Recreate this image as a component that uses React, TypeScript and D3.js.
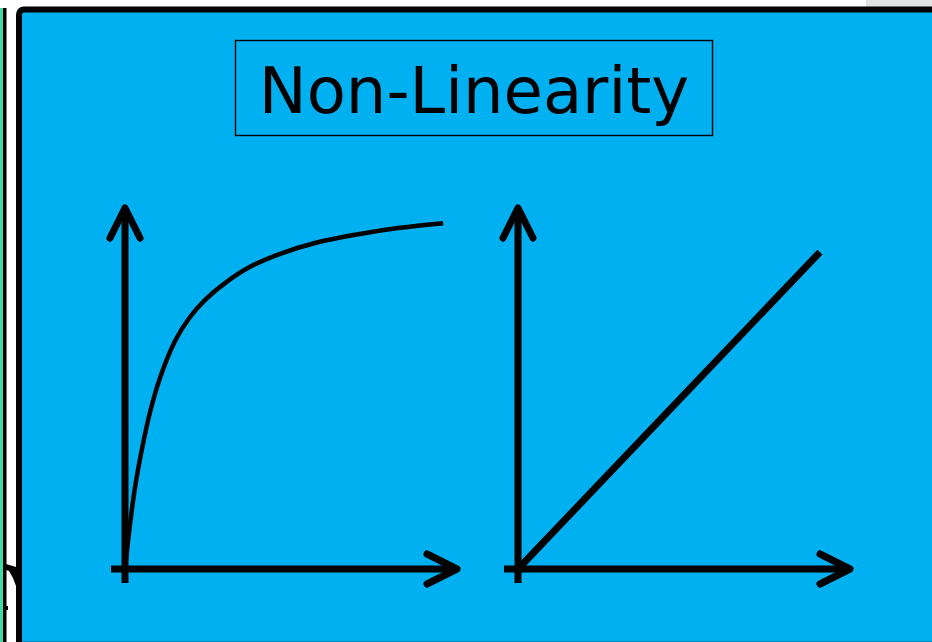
import React from "react";
import * as d3 from "d3";

// Saturating (non-linear) response curve, in data units
const curveX = [0, 0.15, 0.3, 0.52, 0.76, 1.06, 1.52, 1.97, 2.42, 3.03, 3.79, 4.7, 5.76, 7.12, 8.33, 9.64];
const curveY = [0, 1.22, 2.24, 3.35, 4.35, 5.29, 6.32, 6.98, 7.45, 7.92, 8.37, 8.73, 9.03, 9.28, 9.45, 9.58];
// Linear response line
const lineX = [0, 9.15];
const lineY = [0, 8.78];

const title = "Non-Linearity";

const BLUE = "#00B0F0";

function Axes({ x0, y0, xEnd, yTop }: { x0: number; y0: number; xEnd: number; yTop: number }) {
  const a = 30;
  const h = 15;
  return (
    <g stroke="#000" strokeWidth={7} fill="none" strokeLinecap="butt" strokeLinejoin="round">
      <line x1={x0} y1={y0 + 14} x2={x0} y2={yTop + 3} />
      <line x1={x0 - 14} y1={y0} x2={xEnd - 3} y2={y0} />
      <path d={`M${x0 - h},${yTop + a} L${x0},${yTop} L${x0 + h},${yTop + a}`} strokeLinecap="round" />
      <path d={`M${xEnd - a},${y0 - h} L${xEnd},${y0} L${xEnd - a},${y0 + h}`} strokeLinecap="round" />
    </g>
  );
}

export default function App() {
  const xL = d3.scaleLinear().domain([0, 10]).range([125, 455]);
  const yL = d3.scaleLinear().domain([0, 10]).range([569, 208]);
  const xR = d3.scaleLinear().domain([0, 10]).range([518, 848]);
  const yR = yL;

  const curvePts: [number, number][] = curveX.map((v, i) => [v, curveY[i]]);
  const curvePath = d3
    .line<[number, number]>()
    .x((d) => xL(d[0]))
    .y((d) => yL(d[1]))
    .curve(d3.curveCatmullRom.alpha(0.5))(curvePts) as string;

  const linePts: [number, number][] = lineX.map((v, i) => [v, lineY[i]]);
  const linePath = d3
    .line<[number, number]>()
    .x((d) => xR(d[0]))
    .y((d) => yR(d[1]))(linePts) as string;

  return (
    <svg
      width={932}
      height={642}
      style={{ position: "absolute", left: 0, top: 0, background: "#fff" }}
    >
      {/* top-right gray strip */}
      <rect x={866} y={0} width={66} height={7} fill="#e3e3e3" />
      {/* left previous-slide strip */}
      <rect x={0} y={8} width={3} height={634} fill="#3ddba8" />
      <rect x={3} y={8} width={3.5} height={634} fill="#000" />
      <path d="M6,564 L16,567 L16,586 L13,578 L9,571 L6,570 Z" fill="#000" />
      <rect x={6} y={606} width={2} height={4} fill="#000" />
      {/* main panel */}
      <rect x={19} y={9.5} width={940} height={660} rx={5} fill={BLUE} stroke="#000" strokeWidth={6} />
      <rect x={22} y={641} width={910} height={1} fill="#0a8ab8" />
      {/* title box */}
      <rect x={235.5} y={40.5} width={477} height={95} fill="none" stroke="#000" strokeWidth={1.4} />
      <text
        x={474}
        y={113}
        textAnchor="middle"
        fontFamily="DejaVu Sans, Verdana, sans-serif"
        fontSize={64}
        fill="#000"
      >
        {title}
      </text>
      {/* left chart */}
      <Axes x0={xL(0)} y0={yL(0)} xEnd={457} yTop={208} />
      <path d={curvePath} fill="none" stroke="#000" strokeWidth={4.5} />
      {/* right chart */}
      <Axes x0={xR(0)} y0={yR(0)} xEnd={850} yTop={208} />
      <path d={linePath} fill="none" stroke="#000" strokeWidth={7} />
    </svg>
  );
}
